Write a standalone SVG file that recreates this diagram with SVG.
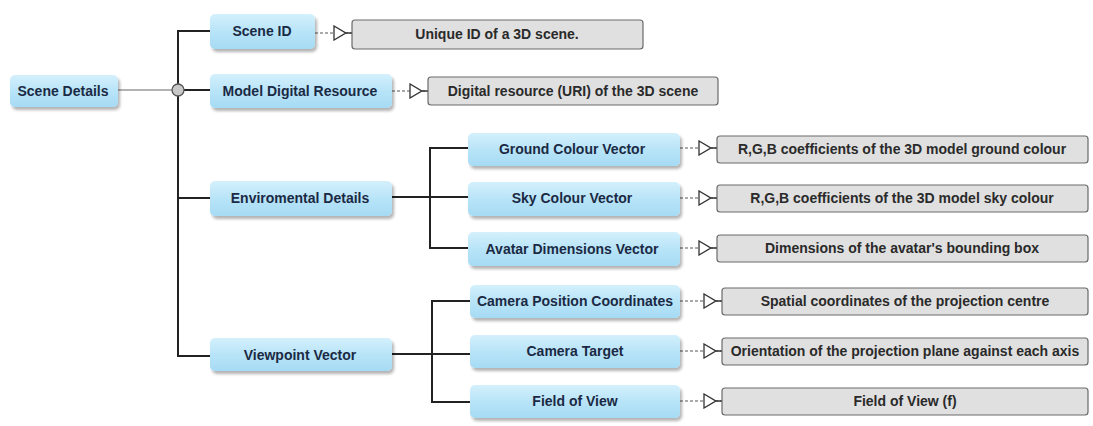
<svg xmlns="http://www.w3.org/2000/svg" width="1093" height="426" viewBox="0 0 1093 426">
<defs>
<linearGradient id="blue" x1="0" y1="0" x2="0" y2="1">
<stop offset="0" stop-color="#d4f0fc"/>
<stop offset="0.5" stop-color="#b8e4f8"/>
<stop offset="1" stop-color="#a6dbf4"/>
</linearGradient>
<filter id="sh" x="-10%" y="-20%" width="120%" height="150%">
<feGaussianBlur in="SourceAlpha" stdDeviation="1.5"/>
<feOffset dx="2" dy="3" result="b"/>
<feComponentTransfer><feFuncA type="linear" slope="0.3"/></feComponentTransfer>
<feMerge><feMergeNode/><feMergeNode in="SourceGraphic"/></feMerge>
</filter>
<marker id="tri" viewBox="0 0 20 16" refX="19" refY="8" markerWidth="20" markerHeight="16" markerUnits="userSpaceOnUse" orient="auto">
<path d="M1,1 L1,15 L13,8 L19,8 L13,8 Z" fill="#fff" stroke="#333" stroke-width="1.3"/>
</marker>
</defs>
<style>
.n rect{fill:url(#blue);filter:url(#sh)}
.n text{font-family:"Liberation Sans",Arial,sans-serif;font-weight:bold;font-size:14px;fill:#1b2a44;text-anchor:middle;dominant-baseline:central}
.d rect{fill:#e0e0e0;stroke:#6a6a6a;stroke-width:1.2}
.d text{font-family:"Liberation Sans",Arial,sans-serif;font-weight:bold;font-size:14px;fill:#2a2a2a;text-anchor:middle;dominant-baseline:central}
.tree{fill:none;stroke:#222;stroke-width:2}
.thin{fill:none;stroke:#666;stroke-width:1}
.dash{fill:none;stroke:#555;stroke-width:1;stroke-dasharray:3,2}
</style>
<rect width="1093" height="426" fill="#fff"/>
<g id="connectors">
<line class="thin" x1="118" y1="90" x2="172" y2="90"/>
<path class="tree" d="M210,31 H178 V356 H210"/>
<line class="tree" x1="184" y1="90" x2="210" y2="90"/>
<line class="tree" x1="178" y1="198" x2="210" y2="198"/>
<circle cx="178" cy="90" r="6" fill="#c8c8c8" stroke="#555" stroke-width="1.3"/>
<path class="tree" d="M468,148 H430 V248 H468"/>
<line class="tree" x1="392" y1="197" x2="468" y2="197"/>
<path class="tree" d="M470,301 H432 V402 H470"/>
<line class="tree" x1="392" y1="354" x2="470" y2="354"/>
<g marker-end="url(#tri)">
<line class="dash" x1="315" y1="33" x2="352" y2="33"/>
<line class="dash" x1="392" y1="91" x2="428" y2="91"/>
<line class="dash" x1="680" y1="148" x2="717" y2="148"/>
<line class="dash" x1="680" y1="198" x2="717" y2="198"/>
<line class="dash" x1="680" y1="248" x2="717" y2="248"/>
<line class="dash" x1="680" y1="301" x2="722" y2="301"/>
<line class="dash" x1="680" y1="351" x2="722" y2="351"/>
<line class="dash" x1="680" y1="401" x2="722" y2="401"/>
</g>
</g>
<g id="scene-details" class="n"><rect x="10" y="75" width="108" height="32" rx="5"/><text x="63" y="91">Scene Details</text></g>
<g id="scene-id" class="n"><rect x="210" y="14" width="105" height="35" rx="5"/><text x="262" y="31">Scene ID</text></g>
<g id="model-digital-resource" class="n"><rect x="210" y="74" width="182" height="34" rx="5"/><text x="300" y="91">Model Digital Resource</text></g>
<g id="environmental-details" class="n"><rect x="210" y="181" width="182" height="35" rx="5"/><text x="300" y="198">Enviromental Details</text></g>
<g id="viewpoint-vector" class="n"><rect x="210" y="338" width="182" height="33" rx="5"/><text x="300" y="355">Viewpoint Vector</text></g>
<g id="ground-colour-vector" class="n"><rect x="468" y="133" width="212" height="33" rx="5"/><text x="572" y="149">Ground Colour Vector</text></g>
<g id="sky-colour-vector" class="n"><rect x="468" y="182" width="212" height="34" rx="5"/><text x="572" y="198">Sky Colour Vector</text></g>
<g id="avatar-dimensions-vector" class="n"><rect x="468" y="232" width="212" height="34" rx="5"/><text x="572" y="249">Avatar Dimensions Vector</text></g>
<g id="camera-position-coordinates" class="n"><rect x="470" y="285" width="210" height="33" rx="5"/><text x="575" y="301">Camera Position Coordinates</text></g>
<g id="camera-target" class="n"><rect x="470" y="335" width="210" height="33" rx="5"/><text x="575" y="351">Camera Target</text></g>
<g id="field-of-view" class="n"><rect x="470" y="385" width="210" height="33" rx="5"/><text x="575" y="401">Field of View</text></g>
<g id="desc-scene-id" class="d"><rect x="352" y="20" width="291" height="29" rx="3"/><text x="497" y="34">Unique ID of a 3D scene.</text></g>
<g id="desc-model" class="d"><rect x="428" y="77" width="290" height="28" rx="3"/><text x="573" y="91">Digital resource (URI) of the 3D scene</text></g>
<g id="desc-ground" class="d"><rect x="717" y="136" width="371" height="27" rx="3"/><text x="902" y="149">R,G,B coefficients of the 3D model ground colour</text></g>
<g id="desc-sky" class="d"><rect x="717" y="185" width="371" height="27" rx="3"/><text x="902" y="198">R,G,B coefficients of the 3D model sky colour</text></g>
<g id="desc-avatar" class="d"><rect x="717" y="235" width="371" height="27" rx="3"/><text x="902" y="248">Dimensions of the avatar's bounding box</text></g>
<g id="desc-camera-position" class="d"><rect x="722" y="288" width="366" height="27" rx="3"/><text x="905" y="301">Spatial coordinates of the projection centre</text></g>
<g id="desc-camera-target" class="d"><rect x="722" y="338" width="366" height="27" rx="3"/><text x="905" y="351">Orientation of the projection plane against each axis</text></g>
<g id="desc-fov" class="d"><rect x="722" y="388" width="366" height="27" rx="3"/><text x="905" y="401">Field of View (f)</text></g>
</svg>
